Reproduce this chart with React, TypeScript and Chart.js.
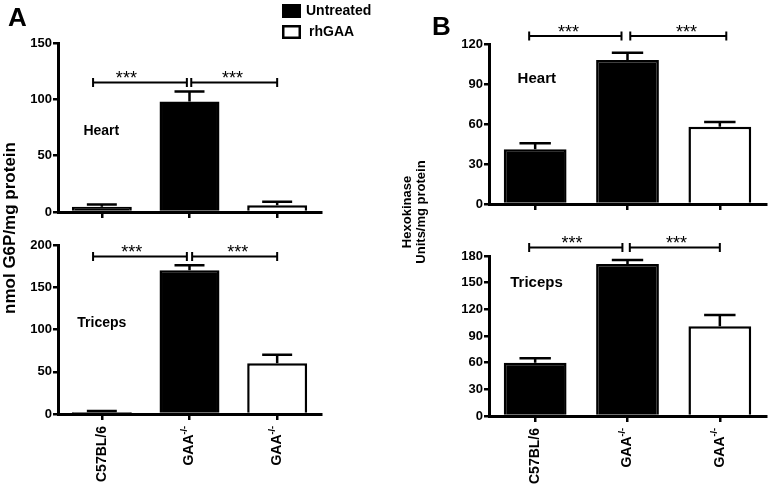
import React, { useEffect, useRef } from 'react';
import { Chart, registerables } from 'chart.js';

Chart.register(...registerables);

const FONT = '"Liberation Sans", Arial, Helvetica, sans-serif';

// ---------- data ----------
const CATEGORIES = ['C57BL/6', 'GAA', 'GAA'];
const CATEGORY_SUPERSCRIPTS = ['', '-/-', '-/-'];
const BAR_COLORS = ['#000000', '#000000', '#ffffff'];
const LEGEND_LABELS = ['Untreated', 'rhGAA'];
const LEGEND_COLORS = ['#000000', '#ffffff'];
const SIG_LABEL = '***';

const A_TITLE = 'nmol G6P/mg protein';
const B_TITLE = ['Hexokinase', 'Units/mg protein'];
const ORGANS = ['Heart', 'Triceps'];

// Panel A (G6P) - Heart
const A_HEART_VALUES = [4.6, 98, 6];
const A_HEART_ERRORS = [2, 9, 3];
const A_HEART_TICKS = [0, 50, 100, 150];
const A_HEART_BRACKET_FROM = [-0.1, 1.02];
const A_HEART_BRACKET_TO = [0.97, 2.0];
const A_HEART_BRACKET_LEVEL = 115;
const A_HEART_STAR_X = [0.28, 1.49];
const A_HEART_ORGAN_AT = [-0.21, 72];

// Panel A (G6P) - Triceps
const A_TRICEPS_VALUES = [2.5, 170, 60];
const A_TRICEPS_ERRORS = [1, 6, 10];
const A_TRICEPS_TICKS = [0, 50, 100, 150, 200];
const A_TRICEPS_BRACKET_FROM = [-0.1, 1.03];
const A_TRICEPS_BRACKET_TO = [0.97, 2.0];
const A_TRICEPS_BRACKET_LEVEL = 186.5;
const A_TRICEPS_STAR_X = [0.34, 1.55];
const A_TRICEPS_ORGAN_AT = [-0.28, 108];

// Panel B (Hexokinase) - Heart
const B_HEART_VALUES = [41, 108, 58];
const B_HEART_ERRORS = [4.5, 5.5, 3.5];
const B_HEART_TICKS = [0, 30, 60, 90, 120];
const B_HEART_BRACKET_FROM = [-0.065, 1.03];
const B_HEART_BRACKET_TO = [0.935, 2.07];
const B_HEART_BRACKET_LEVEL = 126;
const B_HEART_STAR_X = [0.36, 1.64];
const B_HEART_ORGAN_AT = [-0.19, 94];

// Panel B (Hexokinase) - Triceps
const B_TRICEPS_VALUES = [60, 171, 101];
const B_TRICEPS_ERRORS = [5, 4.5, 12.5];
const B_TRICEPS_TICKS = [0, 30, 60, 90, 120, 150, 180];
const B_TRICEPS_BRACKET_FROM = [-0.065, 1.025];
const B_TRICEPS_BRACKET_TO = [0.945, 2.0];
const B_TRICEPS_BRACKET_LEVEL = 189.5;
const B_TRICEPS_STAR_X = [0.4, 1.53];
const B_TRICEPS_ORGAN_AT = [-0.27, 150];

// ---------- layout ----------
const W = 770;
const H = 495;
const Y_W = 50;
const X_H = 10;

type Area = { left: number; top: number; right: number; bottom: number };
type Spec = {
  values: number[];
  errors: number[];
  ticks: number[];
  organ: string;
  organAt: number[];
  organSize: number;
  bracketFrom: number[];
  bracketTo: number[];
  bracketLevel: number;
  starX: number[];
  area: Area;
  barPct: number;
  showLabels: boolean;
  extra: 'A' | 'B' | null;
};

const SPECS: Spec[] = [
  {
    values: A_HEART_VALUES, errors: A_HEART_ERRORS, ticks: A_HEART_TICKS,
    organ: ORGANS[0], organAt: A_HEART_ORGAN_AT, organSize: 14,
    bracketFrom: A_HEART_BRACKET_FROM, bracketTo: A_HEART_BRACKET_TO,
    bracketLevel: A_HEART_BRACKET_LEVEL, starX: A_HEART_STAR_X,
    area: { left: 58, top: 43, right: 321, bottom: 212 }, barPct: 0.684,
    showLabels: false, extra: 'A',
  },
  {
    values: A_TRICEPS_VALUES, errors: A_TRICEPS_ERRORS, ticks: A_TRICEPS_TICKS,
    organ: ORGANS[1], organAt: A_TRICEPS_ORGAN_AT, organSize: 14,
    bracketFrom: A_TRICEPS_BRACKET_FROM, bracketTo: A_TRICEPS_BRACKET_TO,
    bracketLevel: A_TRICEPS_BRACKET_LEVEL, starX: A_TRICEPS_STAR_X,
    area: { left: 58, top: 245, right: 321, bottom: 414 }, barPct: 0.684,
    showLabels: true, extra: null,
  },
  {
    values: B_HEART_VALUES, errors: B_HEART_ERRORS, ticks: B_HEART_TICKS,
    organ: ORGANS[0], organAt: B_HEART_ORGAN_AT, organSize: 15,
    bracketFrom: B_HEART_BRACKET_FROM, bracketTo: B_HEART_BRACKET_TO,
    bracketLevel: B_HEART_BRACKET_LEVEL, starX: B_HEART_STAR_X,
    area: { left: 489, top: 44, right: 766, bottom: 204 }, barPct: 0.68,
    showLabels: false, extra: 'B',
  },
  {
    values: B_TRICEPS_VALUES, errors: B_TRICEPS_ERRORS, ticks: B_TRICEPS_TICKS,
    organ: ORGANS[1], organAt: B_TRICEPS_ORGAN_AT, organSize: 15,
    bracketFrom: B_TRICEPS_BRACKET_FROM, bracketTo: B_TRICEPS_BRACKET_TO,
    bracketLevel: B_TRICEPS_BRACKET_LEVEL, starX: B_TRICEPS_STAR_X,
    area: { left: 489, top: 256, right: 766, bottom: 416 }, barPct: 0.68,
    showLabels: true, extra: null,
  },
];

function makeDecor(spec: Spec) {
  return {
    id: 'decor',
    afterDatasetsDraw(chart: any) {
      const { ctx } = chart;
      const y = chart.scales.y;
      const meta = chart.getDatasetMeta(0);
      ctx.save();
      ctx.strokeStyle = '#000';
      ctx.lineWidth = 2.5;
      meta.data.forEach((bar: any, i: number) => {
        const top = y.getPixelForValue(spec.values[i]);
        const errTop = y.getPixelForValue(spec.values[i] + spec.errors[i]);
        const half = bar.width * 0.25;
        ctx.beginPath();
        ctx.moveTo(bar.x, top);
        ctx.lineTo(bar.x, errTop);
        ctx.moveTo(bar.x - half, errTop);
        ctx.lineTo(bar.x + half, errTop);
        ctx.stroke();
      });
      ctx.restore();
    },
    afterDraw(chart: any) {
      const { ctx, chartArea } = chart;
      const x = chart.scales.x;
      const y = chart.scales.y;
      ctx.save();
      ctx.fillStyle = '#000';
      ctx.strokeStyle = '#000';

      // significance brackets
      const yy = y.getPixelForValue(spec.bracketLevel);
      ctx.lineWidth = 2;
      spec.bracketFrom.forEach((f, k) => {
        const x0 = x.getPixelForValue(f);
        const x1 = x.getPixelForValue(spec.bracketTo[k]);
        ctx.beginPath();
        ctx.moveTo(x0, yy);
        ctx.lineTo(x1, yy);
        ctx.moveTo(x0, yy - 4.5);
        ctx.lineTo(x0, yy + 4.5);
        ctx.moveTo(x1, yy - 4.5);
        ctx.lineTo(x1, yy + 4.5);
        ctx.stroke();
        ctx.font = `18px ${FONT}`;
        ctx.textAlign = 'center';
        ctx.textBaseline = 'alphabetic';
        const m = ctx.measureText(SIG_LABEL);
        const cy = yy - 8;
        ctx.fillText(
          SIG_LABEL,
          x.getPixelForValue(spec.starX[k]),
          cy + (m.actualBoundingBoxAscent - m.actualBoundingBoxDescent) / 2
        );
      });

      // organ label
      ctx.font = `bold ${spec.organSize}px ${FONT}`;
      ctx.textAlign = 'left';
      ctx.textBaseline = 'middle';
      ctx.fillText(spec.organ, x.getPixelForValue(spec.organAt[0]), y.getPixelForValue(spec.organAt[1]));

      // rotated category labels
      if (spec.showLabels) {
        CATEGORIES.forEach((label, i) => {
          const px = x.getPixelForValue(i);
          ctx.save();
          ctx.translate(px, chartArea.bottom + 12);
          ctx.rotate(-Math.PI / 2);
          const sup = CATEGORY_SUPERSCRIPTS[i];
          ctx.font = `bold 9px ${FONT}`;
          const supW = sup ? ctx.measureText(sup).width : 0;
          if (sup) {
            ctx.textAlign = 'right';
            ctx.textBaseline = 'middle';
            ctx.fillText(sup, 0, -5);
          }
          ctx.font = `bold 14px ${FONT}`;
          ctx.textAlign = 'right';
          ctx.textBaseline = 'middle';
          ctx.fillText(label, -supW, 0);
          ctx.restore();
        });
      }

      if (spec.extra === 'A') {
        // panel letter
        ctx.font = `bold 26px ${FONT}`;
        ctx.textAlign = 'left';
        ctx.textBaseline = 'alphabetic';
        ctx.fillText('A', 8, 26);
        // legend
        LEGEND_LABELS.forEach((lab, i) => {
          const top = 4 + i * 21;
          ctx.fillStyle = LEGEND_COLORS[i];
          ctx.fillRect(282, top, 19, 14);
          ctx.lineWidth = 2.5;
          ctx.strokeStyle = '#000';
          ctx.strokeRect(283.25, top + 1.25, 16.5, 11.5);
          ctx.fillStyle = '#000';
          ctx.font = `bold 14px ${FONT}`;
          ctx.textAlign = 'left';
          ctx.textBaseline = 'middle';
          ctx.fillText(lab, i === 0 ? 306 : 309, top + 7.5);
        });
        // y title
        ctx.save();
        ctx.translate(10, 228);
        ctx.rotate(-Math.PI / 2);
        ctx.font = `bold 17px ${FONT}`;
        ctx.textAlign = 'center';
        ctx.textBaseline = 'middle';
        ctx.fillText(A_TITLE, 0, 0);
        ctx.restore();
      }
      if (spec.extra === 'B') {
        ctx.font = `bold 26px ${FONT}`;
        ctx.textAlign = 'left';
        ctx.textBaseline = 'alphabetic';
        ctx.fillText('B', 432, 35);
        ctx.save();
        ctx.translate(0, 212);
        ctx.rotate(-Math.PI / 2);
        ctx.font = `bold 13px ${FONT}`;
        ctx.textAlign = 'center';
        ctx.textBaseline = 'middle';
        ctx.fillText(B_TITLE[0], 0, 407);
        ctx.fillText(B_TITLE[1], 0, 421);
        ctx.restore();
      }
      ctx.restore();
    },
  };
}

function buildConfig(spec: Spec): any {
  const a = spec.area;
  return {
    type: 'bar',
    data: {
      labels: CATEGORIES,
      datasets: [
        {
          data: spec.values,
          backgroundColor: BAR_COLORS,
          borderColor: '#000000',
          borderWidth: 2.5,
          borderSkipped: 'start',
          barPercentage: spec.barPct,
          categoryPercentage: 1,
        },
      ],
    },
    options: {
      animation: false,
      responsive: false,
      maintainAspectRatio: false,
      events: [],
      layout: {
        padding: {
          left: a.left - Y_W,
          top: a.top,
          right: W - a.right,
          bottom: H - a.bottom - X_H,
        },
      },
      plugins: {
        legend: { display: false },
        tooltip: { enabled: false },
      },
      scales: {
        x: {
          grid: { offset: false, drawOnChartArea: false, drawTicks: true, tickLength: 6, lineWidth: 2.5, color: '#000' },
          border: { display: true, width: 3, color: '#000' },
          ticks: { display: false },
          afterFit: (s: any) => {
            s.height = X_H;
            s.paddingLeft = 0;
            s.paddingRight = 0;
          },
        },
        y: {
          min: spec.ticks[0],
          max: spec.ticks[spec.ticks.length - 1],
          afterBuildTicks: (s: any) => {
            s.ticks = spec.ticks.map((v) => ({ value: v }));
          },
          ticks: {
            color: '#000',
            padding: 1,
            font: { family: FONT, size: 13, weight: 'bold' },
          },
          grid: { drawOnChartArea: false, drawTicks: true, tickLength: 5, lineWidth: 2.5, color: '#000' },
          border: { display: true, width: 3, color: '#000' },
          afterFit: (s: any) => {
            s.width = Y_W;
            s.paddingTop = 0;
            s.paddingBottom = 0;
          },
        },
      },
    },
    plugins: [makeDecor(spec)],
  };
}

function PanelCanvas({ spec }: { spec: Spec }) {
  const ref = useRef<HTMLCanvasElement>(null);
  useEffect(() => {
    const chart = new Chart(ref.current as HTMLCanvasElement, buildConfig(spec));
    return () => chart.destroy();
  }, [spec]);
  return (
    <canvas
      ref={ref}
      width={W}
      height={H}
      style={{ position: 'absolute', left: 0, top: 0, width: W, height: H }}
    />
  );
}

export default function App() {
  return (
    <div style={{ position: 'absolute', left: 0, top: 0, width: W, height: H, background: '#ffffff', overflow: 'hidden' }}>
      {SPECS.map((s, i) => (
        <PanelCanvas key={i} spec={s} />
      ))}
    </div>
  );
}
